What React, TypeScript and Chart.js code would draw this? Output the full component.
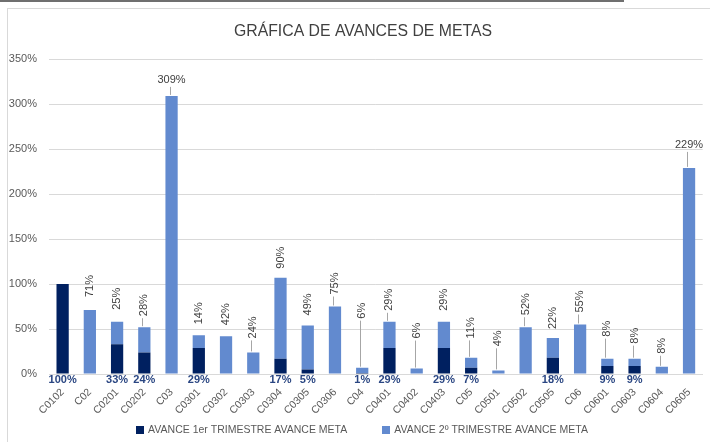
import React, { useEffect, useRef } from "react";
import { Chart, registerables } from "chart.js";

Chart.register(...registerables);

const categories = ["C0102", "C02", "C0201", "C0202", "C03", "C0301", "C0302", "C0303", "C0304", "C0305", "C0306", "C04", "C0401", "C0402", "C0403", "C05", "C0501", "C0502", "C0505", "C06", "C0601", "C0603", "C0604", "C0605"];
const avance1erTrimestre = [100, 0, 33, 24, 0, 29, 0, 0, 17, 5, 0, 1, 29, 0, 29, 7, 0, 0, 18, 0, 9, 9, 0, 0];
const avance2oTrimestre = [0, 71, 25, 28, 309, 14, 42, 24, 90, 49, 75, 6, 29, 6, 29, 11, 4, 52, 22, 55, 8, 8, 8, 229];
const yTicks = [0, 50, 100, 150, 200, 250, 300, 350];

const seriesNames = ["AVANCE 1er TRIMESTRE AVANCE META", "AVANCE 2º TRIMESTRE AVANCE META"];
const chartTitle = "GRÁFICA DE AVANCES DE METAS";

// label annotation styling (pixel lift of each light-series label above its bar, and leader flags)
const labelLift = [0, 24, 23, 22, 16, 22, 22, 25, 20, 21, 23, 57, 22, 38, 22, 30, 32, 23, 20, 23, 30, 23, 21, 23];
const labelLeader = [false, false, false, true, true, false, false, true, false, false, true, true, true, true, false, true, true, true, false, true, true, true, true, true];

const FONT = "'Liberation Sans', Arial, sans-serif";
const DARK = "#002060";
const LIGHT = "#628ACF";

const framePlugin = {
  id: "frame",
  beforeDraw(chart: any) {
    const ctx = chart.ctx;
    ctx.save();
    ctx.fillStyle = "#ffffff";
    ctx.fillRect(0, 0, chart.width, chart.height);
    ctx.fillStyle = "#6f6f6f";
    ctx.fillRect(0, 0, 624, 2);
    ctx.strokeStyle = "#d9d9d9";
    ctx.lineWidth = 1;
    ctx.strokeRect(7.5, 8.5, chart.width + 10, chart.height + 10);
    // title
    ctx.fillStyle = "#404040";
    ctx.font = `15.8px ${FONT}`;
    ctx.textAlign = "center";
    ctx.textBaseline = "middle";
    ctx.fillText(chartTitle, 363, 32);
    // legend
    ctx.font = `10.5px ${FONT}`;
    const colors = [DARK, LIGHT];
    const box = 8;
    const gapBoxText = 4;
    const itemGap = 35;
    const widths = seriesNames.map((n) => ctx.measureText(n).width);
    const total = widths.reduce((a, w) => a + box + gapBoxText + w, 0) + itemGap * (seriesNames.length - 1);
    let x = 362 - total / 2;
    const ly = 430;
    ctx.textAlign = "left";
    seriesNames.forEach((n, i) => {
      ctx.fillStyle = colors[i];
      ctx.fillRect(Math.round(x), ly - 4, box, box);
      ctx.fillStyle = "#595959";
      ctx.fillText(n, x + box + gapBoxText, ly + 0.5);
      x += box + gapBoxText + widths[i] + itemGap;
    });
    ctx.restore();
  },
};

const labelPlugin = {
  id: "valueLabels",
  afterDatasetsDraw(chart: any) {
    const ctx = chart.ctx;
    const yScale = chart.scales.y;
    const zeroY = yScale.getPixelForValue(0);
    ctx.save();
    const meta1 = chart.getDatasetMeta(1);
    ctx.font = `11px ${FONT}`;
    ctx.fillStyle = "#404040";
    ctx.strokeStyle = "#a6a6a6";
    ctx.lineWidth = 1;
    avance2oTrimestre.forEach((v, i) => {
      if (!v) return;
      const el = meta1.data[i];
      const x = el.x;
      const top = el.y;
      const cy = top - labelLift[i];
      const text = `${v}%`;
      const w = ctx.measureText(text).width;
      let startY;
      if (v >= 200) {
        ctx.textAlign = "center";
        ctx.textBaseline = "middle";
        ctx.fillText(text, x, cy);
        startY = cy + 7;
      } else {
        ctx.save();
        ctx.translate(x, cy);
        ctx.rotate(-Math.PI / 2);
        ctx.textAlign = "center";
        ctx.textBaseline = "middle";
        ctx.fillText(text, 0, 0);
        ctx.restore();
        startY = cy + w / 2 + 2;
      }
      if (labelLeader[i] && top - 1 > startY) {
        ctx.beginPath();
        ctx.moveTo(Math.round(x) - 1.5, startY);
        ctx.lineTo(Math.round(x) - 1.5, top - 1);
        ctx.stroke();
      }
    });
    const meta0 = chart.getDatasetMeta(0);
    ctx.font = `bold 11px ${FONT}`;
    ctx.fillStyle = "#2A4682";
    ctx.textAlign = "center";
    ctx.textBaseline = "middle";
    avance1erTrimestre.forEach((v, i) => {
      if (!v) return;
      const el = meta0.data[i];
      ctx.fillText(`${v}%`, el.x, zeroY + 6);
    });
    ctx.restore();
  },
};

export default function App() {
  const ref = useRef<HTMLCanvasElement | null>(null);
  useEffect(() => {
    document.body.style.margin = "0";
    const canvas = ref.current!;
    const chart = new Chart(canvas, {
      type: "bar",
      data: {
        labels: categories,
        datasets: [
          { label: seriesNames[0], data: avance1erTrimestre, backgroundColor: DARK, barPercentage: 0.45, categoryPercentage: 1 },
          { label: seriesNames[1], data: avance2oTrimestre, backgroundColor: LIGHT, barPercentage: 0.45, categoryPercentage: 1 },
        ],
      },
      options: {
        responsive: false,
        animation: false,
        layout: { padding: { left: 0, right: 2, top: 59, bottom: 23 } },
        plugins: {
          title: { display: false },
          legend: { display: false },
          tooltip: { enabled: false },
        },
        scales: {
          x: {
            stacked: true,
            grid: { display: false, drawTicks: false },
            border: { display: true, color: "#d9d9d9" },
            ticks: {
              autoSkip: false,
              maxRotation: 45,
              minRotation: 45,
              padding: 12,
              color: "#595959",
              font: { family: FONT, size: 10.5 },
            },
            afterFit: (scale: any) => {
              scale.height = 45;
            },
          },
          y: {
            stacked: true,
            min: 0,
            max: 350,
            afterBuildTicks: (scale: any) => {
              scale.ticks = yTicks.map((v) => ({ value: v }));
            },
            grid: { color: "#d9d9d9", drawTicks: false },
            border: { display: false },
            ticks: {
              padding: 12,
              color: "#595959",
              font: { family: FONT, size: 11 },
              callback: (v: any) => `${v}%`,
            },
            afterFit: (scale: any) => {
              scale.width = 49;
            },
          },
        },
      },
      plugins: [framePlugin, labelPlugin],
    });
    return () => chart.destroy();
  }, []);
  return <canvas ref={ref} width={710} height={442} style={{ display: "block", width: 710, height: 442 }} />;
}
